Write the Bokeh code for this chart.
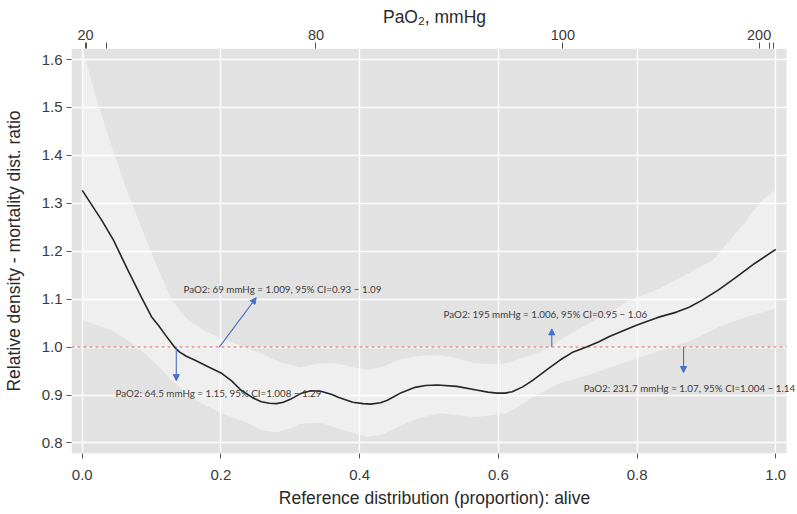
from bokeh.plotting import figure
from bokeh.models import (ColumnDataSource, FixedTicker, LinearAxis, NumeralTickFormatter,
                          Arrow, NormalHead, Range1d, LabelSet)
from bokeh.core.properties import value
from bokeh.embed import file_html
from bokeh.resources import INLINE

# ---------------- data ----------------
curve_x = [0.0, 0.028, 0.045, 0.066, 0.085, 0.1, 0.11, 0.12, 0.133, 0.14, 0.15, 0.162, 0.18,
           0.2, 0.215, 0.229, 0.245, 0.258, 0.27, 0.28, 0.29, 0.30, 0.315, 0.33, 0.344, 0.36,
           0.37, 0.39, 0.405, 0.416, 0.43, 0.44, 0.46, 0.48, 0.495, 0.512, 0.54, 0.57, 0.585,
           0.598, 0.61, 0.62, 0.635, 0.65, 0.67, 0.689, 0.708, 0.727, 0.745, 0.76, 0.78, 0.8,
           0.83, 0.857, 0.875, 0.894, 0.918, 0.943, 0.97, 1.0]
curve_y = [1.327, 1.265, 1.223, 1.16, 1.105, 1.063, 1.045, 1.025, 1.0, 0.99, 0.981, 0.973,
           0.96, 0.946, 0.93, 0.91, 0.895, 0.886, 0.883, 0.882, 0.885, 0.891, 0.903, 0.909,
           0.908, 0.901, 0.895, 0.885, 0.882, 0.881, 0.884, 0.889, 0.905, 0.916, 0.92, 0.921,
           0.918, 0.91, 0.906, 0.904, 0.904, 0.907, 0.917, 0.931, 0.953, 0.973, 0.99, 1.0,
           1.011, 1.022, 1.034, 1.046, 1.062, 1.073, 1.083, 1.098, 1.12, 1.146, 1.175, 1.204]

ci_upper_x = [0.0, 0.02, 0.04, 0.06, 0.081, 0.104, 0.129, 0.153, 0.175, 0.196, 0.234, 0.258,
              0.285, 0.315, 0.34, 0.363, 0.39, 0.411, 0.435, 0.459, 0.49, 0.517, 0.545,
              0.564, 0.603, 0.63, 0.65, 0.677, 0.689, 0.737, 0.764, 0.785, 0.833, 0.871,
              0.909, 0.937, 0.957, 0.976, 1.0]
ci_upper_y = [1.625, 1.52, 1.43, 1.345, 1.265, 1.181, 1.098, 1.056, 1.035, 1.021, 1.0, 0.987,
              0.968, 0.958, 0.965, 0.967, 0.958, 0.952, 0.96, 0.975, 0.982, 0.983, 0.975,
              0.967, 0.963, 0.975, 0.985, 1.0, 1.015, 1.055, 1.075, 1.095, 1.122, 1.152,
              1.181, 1.229, 1.262, 1.3, 1.33]

ci_lower_x = [0.0, 0.042, 0.065, 0.09, 0.11, 0.129, 0.145, 0.162, 0.2, 0.238, 0.258, 0.28,
              0.3, 0.315, 0.344, 0.38, 0.411, 0.433, 0.454, 0.485, 0.517, 0.545, 0.569,
              0.612, 0.63, 0.65, 0.689, 0.727, 0.76, 0.793, 0.857, 0.88, 0.918, 0.957, 1.0]
ci_lower_y = [1.056, 1.035, 1.015, 0.987, 0.96, 0.931, 0.91, 0.89, 0.862, 0.842, 0.827, 0.822,
              0.83, 0.84, 0.842, 0.825, 0.8125, 0.818, 0.833, 0.852, 0.862, 0.857, 0.854,
              0.862, 0.877, 0.896, 0.925, 0.94, 0.957, 0.973, 1.004, 1.015, 1.042, 1.063, 1.08]

ref_ratio = 1.0

x_ticks = [0.0, 0.2, 0.4, 0.6, 0.8, 1.0]
y_ticks = [0.8, 0.9, 1.0, 1.1, 1.2, 1.3, 1.4, 1.5, 1.6]

pao2_tick_pos = [0.0046, 0.337, 0.693, 0.976]
pao2_tick_labels = ["20", "80", "100", "200"]
pao2_minor_pos = [0.0065, 0.035, 0.991, 0.997]
pao2_title = "PaO\u2082, mmHg"

note_texts = ["PaO2: 69 mmHg = 1.009, 95% CI=0.93 \u2212 1.09",
              "PaO2: 64.5 mmHg = 1.15, 95% CI=1.008 \u2212 1.29",
              "PaO2: 195 mmHg = 1.006, 95% CI=0.95 \u2212 1.06",
              "PaO2: 231.7 mmHg = 1.07, 95% CI=1.004 \u2212 1.14"]
note_x = [0.146, 0.048, 0.521, 0.723]
note_y = [1.122, 0.905, 1.070, 0.915]

arrow_x0 = [0.1976, 0.1356, 0.677, 0.867]
arrow_y0 = [1.0, 1.0, 1.0, 1.0]
arrow_x1 = [0.2508, 0.1356, 0.677, 0.867]
arrow_y1 = [1.103, 0.930, 1.038, 0.947]

# ---------------- layout / styles ----------------
X_LO, X_HI = -0.0155, 1.0155      # visible panel extent
Y_LO, Y_HI = 0.778, 1.623
X_CANVAS_HI = 1.0313              # frame extends into the right margin so labels are not cut

FONT = "Liberation Sans"
PANEL = "#E2E2E2"
TICK_CLR = "#555555"
TICK_LBL = "#3a3a3a"
TITLE_CLR = "#2a2a2a"
ARROW_CLR = "#4472C4"

p = figure(width=797, height=514, output_backend="svg", toolbar_location=None,
           x_range=Range1d(X_LO, X_CANVAS_HI), y_range=Range1d(Y_LO, Y_HI),
           min_border_left=70, min_border_right=0, min_border_top=48, min_border_bottom=61)
p.background_fill_color = "white"
p.border_fill_color = "white"
p.outline_line_color = None

# grey panel (drawn beneath the grid)
p.quad(left=[X_LO], right=[X_HI], bottom=[Y_LO], top=[Y_HI], fill_color=PANEL,
       line_color=None, level="image")

bottom_axis = p.below[0]
left_axis = p.left[0]

fmt = NumeralTickFormatter(format="0.0")
bottom_axis.ticker = FixedTicker(ticks=x_ticks)
left_axis.ticker = FixedTicker(ticks=y_ticks)
bottom_axis.formatter = fmt
left_axis.formatter = fmt
bottom_axis.axis_label = "Reference distribution (proportion): alive"
left_axis.axis_label = "Relative density - mortality dist. ratio"

top_axis = LinearAxis(ticker=FixedTicker(ticks=pao2_tick_pos, minor_ticks=pao2_minor_pos),
                      major_label_overrides=dict(zip(pao2_tick_pos, pao2_tick_labels)))
p.add_layout(top_axis, "above")

for ax in [bottom_axis, left_axis, top_axis]:
    ax.axis_line_color = None
    ax.major_tick_line_color = TICK_CLR
    ax.major_tick_out = 5
    ax.major_tick_in = 0
    ax.minor_tick_out = 0
    ax.minor_tick_in = 0
    ax.major_label_text_font = FONT
    ax.major_label_text_font_size = "15px"
    ax.major_label_text_color = TICK_LBL
    ax.axis_label_text_font = FONT
    ax.axis_label_text_font_size = "17.5px"
    ax.axis_label_text_font_style = "normal"
    ax.axis_label_text_color = TITLE_CLR

bottom_axis.major_label_standoff = 11
bottom_axis.axis_label_standoff = 5
left_axis.major_label_standoff = 4
left_axis.axis_label_standoff = 15

top_axis.major_tick_out = 6
top_axis.minor_tick_out = 6
top_axis.minor_tick_line_color = TICK_CLR
top_axis.major_label_text_font_size = "14.5px"
top_axis.major_label_standoff = 3

# top-axis title
p.title.text = pao2_title
p.title.align = "center"
p.title.text_font = FONT
p.title.text_font_size = "17.5px"
p.title.text_font_style = "normal"
p.title.text_color = TITLE_CLR
p.title.standoff = 0

p.xgrid.grid_line_color = "white"
p.ygrid.grid_line_color = "white"
p.xgrid.grid_line_width = 1.3
p.ygrid.grid_line_width = 1.3
p.xgrid.ticker = FixedTicker(ticks=x_ticks)
p.ygrid.ticker = FixedTicker(ticks=y_ticks)

# confidence band
band_x = ci_upper_x + ci_lower_x[::-1]
band_y = ci_upper_y + ci_lower_y[::-1]
p.patch(band_x, band_y, fill_color="white", fill_alpha=0.45, line_color=None)

# reference line (ratio = 1) across the panel
p.segment(x0=[X_LO], x1=[X_HI], y0=[ref_ratio], y1=[ref_ratio], line_color="#F08080",
          line_dash="3 3", line_width=1.5, line_alpha=0.9)

# curve
p.line(curve_x, curve_y, line_color="#262626", line_width=1.6, line_join="round")

# arrows
arr_src = ColumnDataSource(dict(x0=arrow_x0, y0=arrow_y0, x1=arrow_x1, y1=arrow_y1))
p.add_layout(Arrow(end=NormalHead(size=6, fill_color=ARROW_CLR, line_color=ARROW_CLR),
                   x_start="x0", y_start="y0", x_end="x1", y_end="y1",
                   line_color=ARROW_CLR, line_width=1.1, source=arr_src))

# annotation texts
note_src = ColumnDataSource(dict(x=note_x, y=note_y, text=note_texts))
p.add_layout(LabelSet(x="x", y="y", text="text", source=note_src, text_font=value("Lato"),
                      text_font_size="9.8px", text_color="#3c3c3c", text_align="left",
                      text_baseline="middle"))

open("out.html", "w").write(file_html(p, INLINE))
